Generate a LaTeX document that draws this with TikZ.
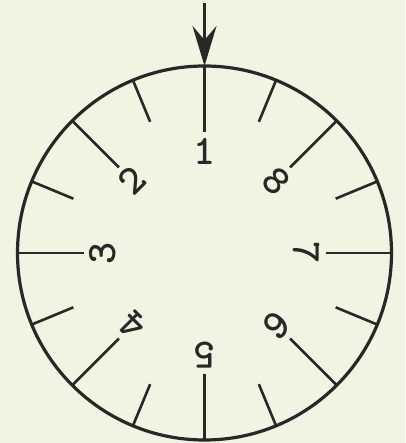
\documentclass[tikz,border=0pt]{standalone}
\usepackage{tikz}
\usetikzlibrary{arrows.meta}
\definecolor{paper}{RGB}{241,244,226}
\definecolor{ink}{RGB}{40,40,38}

\begin{document}
\begin{tikzpicture}[x=1pt,y=1pt,font=\ttfamily\bfseries\fontsize{42}{42}\selectfont,
  rim/.style={ink,line width=3.2pt},
  tick/.style={ink,line width=2.6pt},
  digit/.style={ink,inner sep=0pt}]
 \fill[paper] (0,0) rectangle (405,443);
 \useasboundingbox (0,0) rectangle (405,443);
 \begin{scope}[shift={(204.5,190)}]
 \coordinate (c) at (0,0);
 \draw[rim] (c) circle (187);
 \foreach \k in {1,...,8}{
   \pgfmathsetmacro{\a}{45+45*\k}
   \draw[tick] (\a:187) -- (\a:121);
   \draw[tick] (\a+22.5:187) -- (\a+22.5:142);
   \node[digit,rotate=\a-90] (n\k) at (\a:102) {\k};
 }
 \coordinate (rimtop) at (90:187);
 \coordinate (tail) at (0,250);
 \draw[tick,-{Stealth[length=40pt,width=24pt,inset=14pt]}] (tail) -- (rimtop);
 \end{scope}
\end{tikzpicture}
\end{document}
